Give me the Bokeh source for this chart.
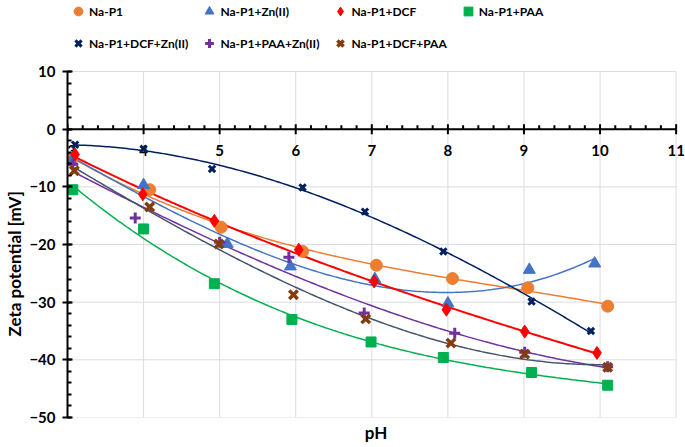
import numpy as np
from bokeh.plotting import figure
from bokeh.models import Range1d, SingleIntervalTicker, Legend, LegendItem, Title
from bokeh.core.properties import value
from bokeh.embed import file_html
from bokeh.resources import INLINE

# ---- data (pH, zeta potential in mV) ----
names = ["Na-P1", "Na-P1+Zn(II)", "Na-P1+DCF", "Na-P1+PAA",
         "Na-P1+DCF+Zn(II)", "Na-P1+PAA+Zn(II)", "Na-P1+DCF+PAA"]

nap1_x = [3.05, 4.08, 5.02, 6.09, 7.06, 8.06, 9.05, 10.1]
nap1_y = [-5.4, -10.5, -17.0, -21.2, -23.6, -25.9, -27.5, -30.7]
zn_x = [3.05, 4.0, 5.1, 5.93, 7.04, 8.0, 9.07, 9.93]
zn_y = [-5.6, -9.7, -19.9, -23.8, -26.0, -30.2, -24.4, -23.3]
dcf_x = [3.1, 3.99, 4.93, 6.04, 7.03, 7.98, 9.01, 9.96]
dcf_y = [-4.4, -11.3, -15.9, -20.9, -26.4, -31.3, -35.1, -38.8]
paa_x = [3.07, 4.0, 4.93, 5.95, 6.99, 7.94, 9.1, 10.1]
paa_y = [-10.5, -17.3, -26.8, -33.0, -36.9, -39.6, -42.2, -44.4]
dcfzn_x = [3.1, 4.0, 4.9, 6.09, 6.91, 7.94, 9.1, 9.88]
dcfzn_y = [-2.7, -3.4, -6.9, -10.1, -14.3, -21.2, -29.9, -35.0]
paazn_x = [3.07, 3.89, 5.0, 5.91, 6.9, 8.09, 9.01, 10.1]
paazn_y = [-6.1, -15.4, -19.6, -22.2, -31.9, -35.4, -38.7, -41.2]
dcfpaa_x = [3.09, 4.08, 4.99, 5.97, 6.92, 8.04, 9.01, 10.1]
dcfpaa_y = [-7.2, -13.5, -19.9, -28.7, -32.9, -37.1, -39.0, -41.3]

xs = [nap1_x, zn_x, dcf_x, paa_x, dcfzn_x, paazn_x, dcfpaa_x]
ys = [nap1_y, zn_y, dcf_y, paa_y, dcfzn_y, paazn_y, dcfpaa_y]

x_ticks = [3, 4, 5, 6, 7, 8, 9, 10, 11]
x_tick_labels = ["3", "4", "5", "6", "7", "8", "9", "10", "11"]
y_ticks = [-50, -40, -30, -20, -10, 0, 10]

# ---- styles ----
marker_color = ["#ED7D31", "#4472C4", "#FF0000", "#00B050", "#002060", "#7030A0", "#843C0C"]
line_color = ["#ED7D31", "#4472C4", "#FF0000", "#00B050", "#002060", "#7030A0", "#44546A"]
line_width = [1.5, 1.5, 2.0, 1.5, 1.5, 1.5, 1.5]
markers = ["circle", "triangle", "diamond", "square", "x", "cross", "x"]
msize = [12, 12, 13, 10, 9, 11, 12]
mline = [1, 1, 1, 1, 3, 3, 3.5]

FONT = "Lato"
GRID = "#D9DCE4"
X_MIN, X_MAX = x_ticks[0], x_ticks[-1]
Y_MIN, Y_MAX = y_ticks[0], y_ticks[-1]

# layout: plot area (pH 3..11, -50..10 mV) spans 346 px; 71 px above it hold the legend
FRAME_H = 417
PLOT_H = 346
Y_TOP = Y_MAX + (FRAME_H - PLOT_H) * (Y_MAX - Y_MIN) / PLOT_H

p = figure(width=685, height=447, x_range=Range1d(X_MIN, X_MAX + 0.11),
           y_range=Range1d(Y_MIN, Y_TOP),
           output_backend="svg", toolbar_location=None,
           min_border_left=66, min_border_right=1, min_border_top=0, min_border_bottom=30)
p.background_fill_color = "white"
p.border_fill_color = "white"
p.outline_line_color = None

p.xgrid.visible = False
p.ygrid.visible = False
p.xaxis.visible = False

# grid lines limited to the plot area
p.segment(x0=[X_MIN] * len(y_ticks), y0=y_ticks, x1=[X_MAX] * len(y_ticks), y1=y_ticks,
          line_color=GRID, line_width=1)
p.segment(x0=x_ticks, y0=[Y_MIN] * len(x_ticks), x1=x_ticks, y1=[Y_MAX] * len(x_ticks),
          line_color=GRID, line_width=1)

ax = p.yaxis[0]
ax.bounds = (Y_MIN, Y_MAX)
ax.ticker = SingleIntervalTicker(interval=10, num_minor_ticks=5)
ax.axis_line_color = "black"
ax.axis_line_width = 2
ax.major_tick_line_color = "black"
ax.major_tick_line_width = 2
ax.minor_tick_line_color = "black"
ax.minor_tick_line_width = 2
ax.major_tick_in = 5
ax.major_tick_out = 5
ax.minor_tick_in = 4
ax.minor_tick_out = 0
ax.major_label_text_font = FONT
ax.major_label_text_font_style = "bold"
ax.major_label_text_font_size = "15px"
ax.major_label_text_color = "black"
ax.major_label_standoff = 7

# y-axis title, centred on the plot area (not on the legend strip)
p.add_layout(Title(text="Zeta potential [mV]", align="left", offset=81, standoff=3,
                   text_font=FONT, text_font_style="bold", text_font_size="17px",
                   text_color="black"), "left")

# x axis drawn along y = 0
p.segment(x0=[X_MIN], y0=[0], x1=[X_MAX], y1=[0], line_color="black", line_width=2)
minor_x = [t + k * 0.2 for t in x_ticks[:-1] for k in range(1, 5)]
p.ray(x=x_ticks, y=[0] * len(x_ticks), length=5, angle=np.pi / 2, length_units="screen",
      line_color="black", line_width=2)
p.ray(x=x_ticks, y=[0] * len(x_ticks), length=5, angle=-np.pi / 2, length_units="screen",
      line_color="black", line_width=2)
p.ray(x=minor_x, y=[0] * len(minor_x), length=4, angle=np.pi / 2, length_units="screen",
      line_color="black", line_width=2)
p.text(x=x_ticks, y=[0] * len(x_ticks), text=x_tick_labels, y_offset=21,
       x_offset=[4] + [0] * (len(x_ticks) - 1),
       text_align="center", text_baseline="middle", text_font=value(FONT),
       text_font_style="bold", text_font_size="15px", text_color="black")

for i in range(len(names)):
    x = np.array(xs[i])
    y = np.array(ys[i])
    coef = np.polyfit(x, y, 3)
    xf = np.linspace(x.min(), x.max(), 200)
    p.line(xf, np.polyval(coef, xf), line_color=line_color[i], line_width=line_width[i])
rends = []
for i in range(len(names)):
    r = p.scatter(xs[i], ys[i], marker=markers[i], size=msize[i],
                  fill_color=marker_color[i], line_color=marker_color[i], line_width=mline[i])
    rends.append(r)

# legend at the top: 2 rows, filled column by column
order = [0, 4, 1, 5, 2, 6, 3]
items = [LegendItem(label=names[i], renderers=[rends[i]]) for i in order]
legend = Legend(items=items, ncols=4, location=(0, FRAME_H - 54),
                border_line_color=None, background_fill_alpha=0,
                label_text_font=FONT, label_text_font_style="bold", label_text_font_size="12px",
                label_text_color="black",
                glyph_width=22, glyph_height=22, label_height=22, spacing=10,
                padding=0, margin=0, label_standoff=0)
p.add_layout(legend)

p.add_layout(Title(text="pH", align="center", text_font=FONT, text_font_style="bold",
                   text_font_size="17px", text_color="black", standoff=4), "below")

open("out.html", "w").write(file_html(p, INLINE))
